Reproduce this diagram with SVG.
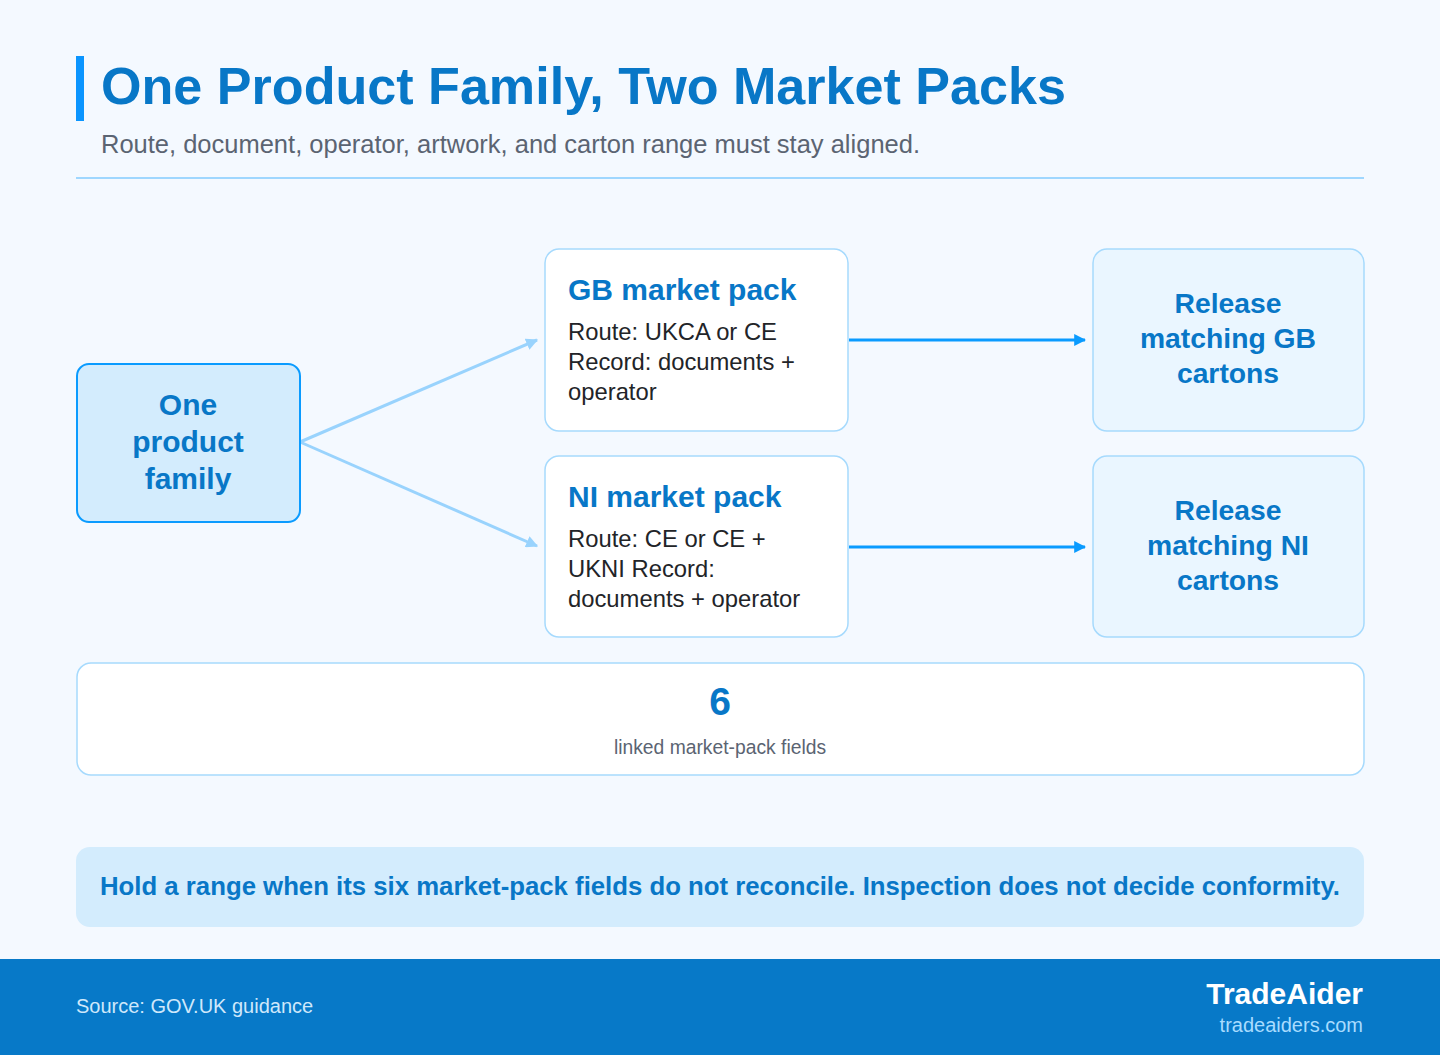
<svg xmlns="http://www.w3.org/2000/svg" width="1440" height="1055" viewBox="0 0 1440 1055">
<defs>
<style>
.t{font-family:"Liberation Sans",Arial,sans-serif}
.b{font-weight:bold}
.blue{fill:#0877c7}
.body{fill:#222428;font-size:23.8px}
.pack{fill:#ffffff;stroke:#a6dafd;stroke-width:1.5}
.rel{fill:#eaf6ff;stroke:#a6dafd;stroke-width:1.5}
.soft{stroke:#99d3fd;stroke-width:3;fill:none}
.strong{stroke:#0a9bff;stroke-width:3;fill:none}
</style>
<marker id="ah-soft" viewBox="0 0 10 10" refX="9" refY="5" markerWidth="4" markerHeight="4" orient="auto" markerUnits="strokeWidth">
<path d="M0,0 L10,5 L0,10 z" fill="#99d3fd"/>
</marker>
<marker id="ah-strong" viewBox="0 0 10 10" refX="9" refY="5" markerWidth="4" markerHeight="4" orient="auto" markerUnits="strokeWidth">
<path d="M0,0 L10,5 L0,10 z" fill="#0a9bff"/>
</marker>
</defs>
<rect x="0" y="0" width="1440" height="1055" fill="#f4f9ff"/>

<g id="header">
<rect x="76" y="56" width="8" height="65" fill="#0a95ff"/>
<text class="t b blue" x="101" y="104" font-size="52" textLength="965" lengthAdjust="spacingAndGlyphs">One Product Family, Two Market Packs</text>
<text class="t" x="101" y="153" font-size="25.5" fill="#5b6472" textLength="819" lengthAdjust="spacingAndGlyphs">Route, document, operator, artwork, and carton range must stay aligned.</text>
<rect x="76" y="177" width="1288" height="2" fill="#9fd7ff"/>
</g>

<g id="connectors">
<line class="soft" x1="300" y1="442" x2="537" y2="340" marker-end="url(#ah-soft)"/>
<line class="soft" x1="300" y1="442" x2="537" y2="546" marker-end="url(#ah-soft)"/>
<line class="strong" x1="849" y1="340" x2="1085" y2="340" marker-end="url(#ah-strong)"/>
<line class="strong" x1="849" y1="547" x2="1085" y2="547" marker-end="url(#ah-strong)"/>
</g>

<g id="node-family">
<rect x="77" y="364" width="223" height="158" rx="12" fill="#d3ecfd" stroke="#0a9bff" stroke-width="2"/>
<text class="t b blue" x="188" y="415" font-size="30" text-anchor="middle">One</text>
<text class="t b blue" x="188" y="452" font-size="30" text-anchor="middle">product</text>
<text class="t b blue" x="188" y="489" font-size="30" text-anchor="middle">family</text>
</g>

<g id="node-gb">
<rect class="pack" x="545" y="249" width="303" height="182" rx="14"/>
<text class="t b blue" x="568" y="300" font-size="30">GB market pack</text>
<text class="t body" x="568" y="340">Route: UKCA or CE</text>
<text class="t body" x="568" y="370">Record: documents +</text>
<text class="t body" x="568" y="400">operator</text>
</g>

<g id="node-ni">
<rect class="pack" x="545" y="456" width="303" height="181" rx="14"/>
<text class="t b blue" x="568" y="507" font-size="30">NI market pack</text>
<text class="t body" x="568" y="547">Route: CE or CE +</text>
<text class="t body" x="568" y="577">UKNI Record:</text>
<text class="t body" x="568" y="607">documents + operator</text>
</g>

<g id="node-release-gb">
<rect class="rel" x="1093" y="249" width="271" height="182" rx="14"/>
<text class="t b blue" x="1228" y="313" font-size="28.3" text-anchor="middle">Release</text>
<text class="t b blue" x="1228" y="348" font-size="28.3" text-anchor="middle">matching GB</text>
<text class="t b blue" x="1228" y="383" font-size="28.3" text-anchor="middle">cartons</text>
</g>

<g id="node-release-ni">
<rect class="rel" x="1093" y="456" width="271" height="181" rx="14"/>
<text class="t b blue" x="1228" y="520" font-size="28.3" text-anchor="middle">Release</text>
<text class="t b blue" x="1228" y="555" font-size="28.3" text-anchor="middle">matching NI</text>
<text class="t b blue" x="1228" y="590" font-size="28.3" text-anchor="middle">cartons</text>
</g>

<g id="stat">
<rect x="77" y="663" width="1287" height="112" rx="14" fill="#ffffff" stroke="#a6dafd" stroke-width="1.5"/>
<text class="t b blue" x="720" y="715" font-size="39" text-anchor="middle">6</text>
<text class="t" x="720" y="754" font-size="19.3" fill="#5b6472" text-anchor="middle">linked market-pack fields</text>
</g>

<g id="callout">
<rect x="76" y="847" width="1288" height="80" rx="14" fill="#d3ecfd"/>
<text class="t b blue" x="100" y="895" font-size="25.5" textLength="1240" lengthAdjust="spacingAndGlyphs">Hold a range when its six market-pack fields do not reconcile. Inspection does not decide conformity.</text>
</g>

<g id="footer">
<rect x="0" y="959" width="1440" height="96" fill="#0779c8"/>
<text class="t" x="76" y="1013" font-size="20" fill="#cfe8fb">Source: GOV.UK guidance</text>
<text class="t b" x="1363" y="1004" font-size="30" fill="#ffffff" text-anchor="end">TradeAider</text>
<text class="t" x="1363" y="1032" font-size="20" fill="#a8dcff" text-anchor="end">tradeaiders.com</text>
</g>
</svg>
